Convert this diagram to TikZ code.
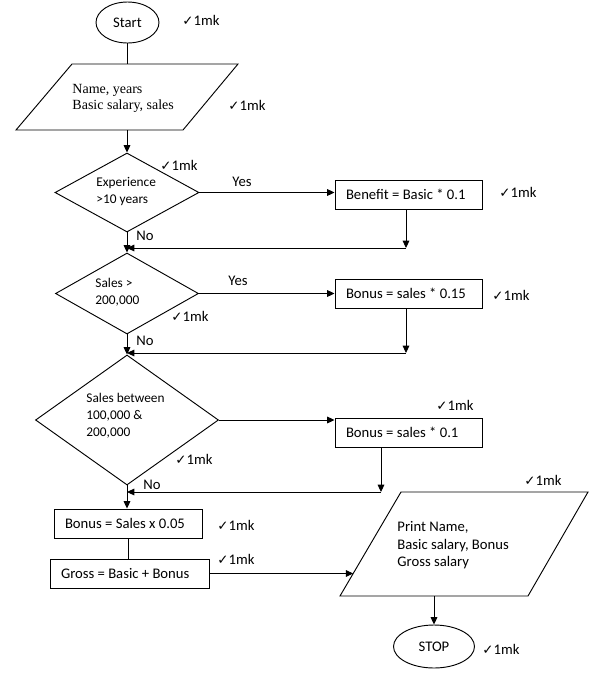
\documentclass[tikz,border=0pt]{standalone}
\usepackage{fontspec}
\setmainfont{Carlito}
\newfontfamily\serifface{Liberation Serif}
\newfontfamily\dejavuface{DejaVu Sans}
\usetikzlibrary{arrows.meta,shapes.geometric}
\newcommand{\tickmk}{{\dejavuface\fontsize{10}{10}\selectfont ✓}1mk}
\begin{document}
\begin{tikzpicture}[x=0.75pt,y=-0.75pt, line width=0.7pt,
  font=\fontsize{11}{13.4}\selectfont,
  arr/.style={-{Triangle[length=5.5pt,width=5pt]}},
  boxnode/.style={draw, rectangle, minimum height=21.75pt, inner xsep=8.25pt, inner ysep=0pt, align=flush left},
  dia/.style={draw, diamond, inner sep=0pt},
  oval/.style={draw, ellipse, inner sep=0pt},
  dtext/.style={font=\fontsize{10}{12.75}\selectfont, align=left, inner sep=0pt, anchor=west},
  mklabel/.style={anchor=west, inner sep=0pt},
  lbl/.style={inner sep=0pt}]
\useasboundingbox (0,0) rectangle (598,676);
\fill[white] (0,0) rectangle (598,676);

% Start
\node[oval, minimum width=47.25pt, minimum height=30.75pt] (start) at (127.5,22.5) {Start};
\node[mklabel] (mk1) at (182,20) {\tickmk};

% Input parallelogram
\coordinate (p1tl) at (72,64);
\coordinate (p1tr) at (238,64);
\coordinate (p1br) at (183,130);
\coordinate (p1bl) at (16,130);
\coordinate (p1t) at (127.5,64);
\coordinate (p1b) at (127,130);
\draw (p1tl) -- (p1tr) -- (p1br) -- (p1bl) -- cycle;
\node[anchor=west, inner sep=0pt, align=left, font=\serifface\fontsize{10.5}{12}\selectfont] (p1) at (72,98) {Name, years\\Basic salary, sales};
\node[mklabel] (mk2) at (228,105) {\tickmk};

% Decision 1
\node[dia, minimum width=108pt, minimum height=59.25pt] (d1) at (127,192.5) {};
\node[dtext] (d1t) at (96,191.5) {Experience\\>10 years};
\node[mklabel] (mk3) at (160,165) {\tickmk};
\node[boxnode, text width=93.75pt] (benefit) at (408.5,194.5) {Benefit = Basic * 0.1};
\node[mklabel] (mk4) at (499,192) {\tickmk};
\coordinate (j1) at (406,248);
\coordinate (m1) at (127,248);

% Decision 2
\node[dia, minimum width=107.25pt, minimum height=60.75pt] (d2) at (127,293.5) {};
\node[dtext] (d2t) at (95,292.5) {Sales >\\200,000};
\node[mklabel] (mk5) at (171,316) {\tickmk};
\node[boxnode, text width=93.75pt] (bonus1) at (408.5,293.5) {Bonus = sales * 0.15};
\node[mklabel] (mk6) at (492,295) {\tickmk};
\coordinate (j2) at (406,353);
\coordinate (m2) at (127,353);

% Decision 3
\node[dia, minimum width=137.25pt, minimum height=97.5pt] (d3) at (127,420) {};
\node[dtext] (d3t) at (86,415.5) {Sales between\\100,000 \&\\200,000};
\node[mklabel] (mk8) at (175,459) {\tickmk};
\node[boxnode, text width=93.75pt] (bonus2) at (408.5,432.5) {Bonus = sales * 0.1};
\node[mklabel] (mk7) at (436,405) {\tickmk};
\coordinate (j3) at (381,492);
\coordinate (m3) at (127,492);

% Lower boxes
\node[boxnode, text width=94.5pt] (b4) at (128,523.5) {Bonus = Sales x 0.05};
\node[mklabel] (mk10) at (217,525) {\tickmk};
\node[boxnode, text width=102.75pt] (gross) at (129.5,573.5) {Gross = Basic + Bonus};
\node[mklabel] (mk11) at (217,559) {\tickmk};

% Output parallelogram
\coordinate (p2tl) at (401,492);
\coordinate (p2tr) at (588,492);
\coordinate (p2br) at (528,596);
\coordinate (p2bl) at (340,596);
\coordinate (p2in) at (353.2,573.5);
\coordinate (p2b) at (434,596);
\draw (p2tl) -- (p2tr) -- (p2br) -- (p2bl) -- cycle;
\node[anchor=west, inner sep=0pt, align=left, font=\fontsize{11}{13.1}\selectfont] (p2) at (397,545.5) {Print Name,\\Basic salary, Bonus\\Gross salary};
\node[mklabel] (mk9) at (524,480) {\tickmk};

% Stop
\node[oval, minimum width=60.75pt, minimum height=32.25pt] (stop) at (434,646.5) {STOP};
\node[mklabel] (mk12) at (482,649) {\tickmk};

% Labels
\node[lbl] (yes1) at (242,182) {Yes};
\node[lbl] (no1) at (145,236) {No};
\node[lbl] (yes2) at (238,281) {Yes};
\node[lbl] (no2) at (145,341) {No};
\node[lbl] (no3) at (152,485) {No};

% Connectors
\draw (start.south) -- (p1t);
\draw[arr] (p1b) -- (d1.north);
\draw[arr] (d1.east) -- (d1.east -| benefit.west);
\draw[arr] (j1 |- benefit.south) -- (j1);
\draw[arr] (j1) -- (m1);
\draw[arr] (d1.south) -- (d2.north);
\draw[arr] (d2.east) -- (d2.east -| bonus1.west);
\draw[arr] (j2 |- bonus1.south) -- (j2);
\draw[arr] (j2) -- (m2);
\draw[arr] (d2.south) -- (d3.north);
\draw[arr] (d3.east) -- (d3.east -| bonus2.west);
\draw[arr] (j3 |- bonus2.south) -- (j3);
\draw[arr] (j3) -- (m3);
\draw[arr] (d3.south) -- (d3.south |- b4.north);
\draw (b4.south) -- (b4.south |- gross.north);
\draw[arr] (gross.east) -- (p2in);
\draw[arr] (p2b) -- (stop.north);
\end{tikzpicture}
\end{document}
